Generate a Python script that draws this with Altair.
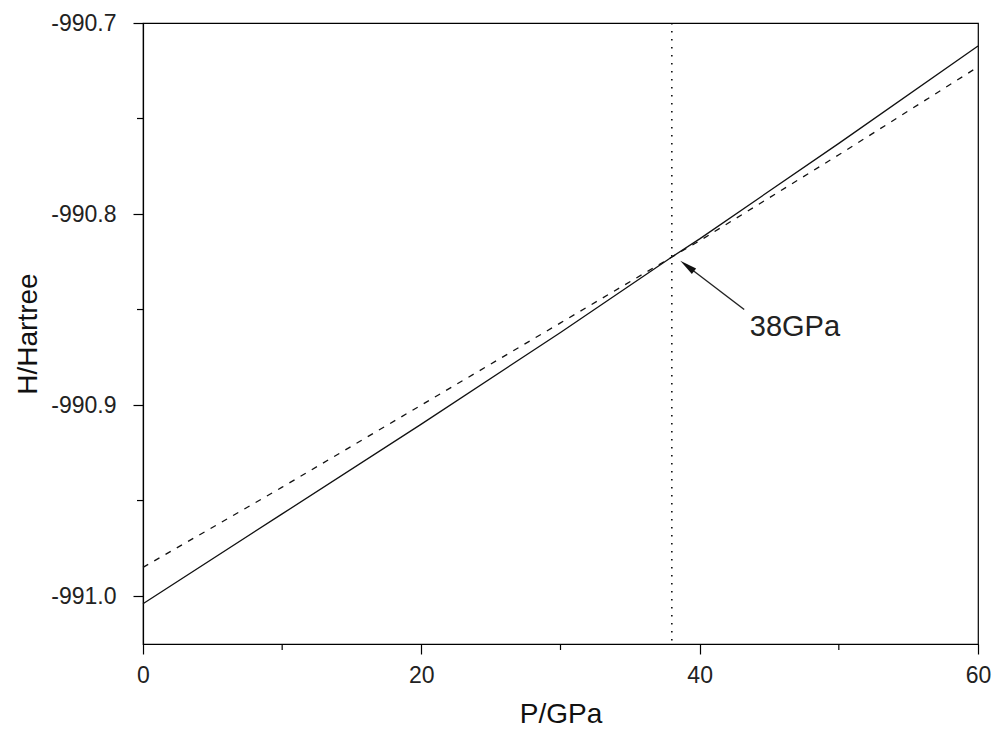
import altair as alt
import pandas as pd

# Data
pressure = [0, 10, 20, 30, 38, 40, 50, 60]
h_solid = [-991.004, -990.957, -990.910, -990.862, -990.8225, -990.813, -990.763, -990.712]
h_dashed = [-990.985, -990.943, -990.900, -990.857, -990.8225, -990.814, -990.769, -990.723]

x_major = [0, 20, 40, 60]
x_minor = [10, 30, 50]
y_major = [-991.0, -990.9, -990.8, -990.7]
y_minor = [-990.95, -990.85, -990.75]

cross_p = [38]
label_text = ["38GPa"]
label_pos = [(43.6, -990.859)]
arrow_tail = (43.2, -990.850)
arrow_head = (39.1, -990.8272)

X_DOMAIN = [0, 60]
Y_DOMAIN = [-991.0251, -990.7]
FONT = "Liberation Sans"

xs = alt.Scale(domain=X_DOMAIN, nice=False, zero=False)
ys = alt.Scale(domain=Y_DOMAIN, nice=False, zero=False)

df_solid = pd.DataFrame({"P": pressure, "H": h_solid})
df_dash = pd.DataFrame({"P": pressure, "H": h_dashed})

solid = alt.Chart(df_solid).mark_line(color="#111", strokeWidth=1.3).encode(
    x=alt.X("P:Q", scale=xs, axis=alt.Axis(values=x_major, title="P/GPa", format="d",
                                           labelPadding=10, titlePadding=13,
                                           labelFlush=False)),
    y=alt.Y("H:Q", scale=ys, axis=alt.Axis(
        values=y_major, title="H/Hartree", labelPadding=17, titlePadding=8,
        labelFlush=False,
        labelExpr="replace(format(datum.value, '.1f'), '\u2212', '-')")),
)
dashed = alt.Chart(df_dash).mark_line(color="#111", strokeWidth=1.3, strokeDash=[6, 7]).encode(
    x=alt.X("P:Q", scale=xs), y=alt.Y("H:Q", scale=ys)
)

vline = alt.Chart(pd.DataFrame({"P": cross_p})).mark_rule(
    color="black", strokeWidth=1.5, strokeDash=[1.5, 6.5]
).encode(x=alt.X("P:Q", scale=xs))

xminor = alt.Chart(pd.DataFrame({"P": x_minor})).mark_rule(color="black", strokeWidth=1.2).encode(
    x=alt.X("P:Q", scale=xs), y=alt.value(621), y2=alt.value(627)
)
yminor = alt.Chart(pd.DataFrame({"H": y_minor})).mark_rule(color="black", strokeWidth=1.2).encode(
    y=alt.Y("H:Q", scale=ys), x=alt.value(-6), x2=alt.value(0)
)

arrow_df = pd.DataFrame({"P": [arrow_tail[0]], "H": [arrow_tail[1]],
                         "P2": [arrow_head[0]], "H2": [arrow_head[1]]})
arrow_line = alt.Chart(arrow_df).mark_rule(color="#222", strokeWidth=1.4).encode(
    x=alt.X("P:Q", scale=xs), y=alt.Y("H:Q", scale=ys), x2="P2:Q", y2="H2:Q"
)
head_df = pd.DataFrame({"P": [arrow_head[0]], "H": [arrow_head[1]]})
arrow_head_mark = alt.Chart(head_df).mark_point(
    shape="M0,-1L-0.4,1L0.4,1Z", filled=True, color="#111", opacity=1,
    size=300, angle=307.6
).encode(x=alt.X("P:Q", scale=xs), y=alt.Y("H:Q", scale=ys))

label_df = pd.DataFrame({"P": [label_pos[0][0]], "H": [label_pos[0][1]], "t": label_text})
label = alt.Chart(label_df).mark_text(
    align="left", baseline="middle", fontSize=29, font=FONT, color="#222"
).encode(x=alt.X("P:Q", scale=xs), y=alt.Y("H:Q", scale=ys), text="t:N")

chart = alt.layer(
    vline, dashed, solid, xminor, yminor, arrow_line, arrow_head_mark, label
).properties(
    width=835, height=621,
    autosize=alt.AutoSizeParams(type="none"),
    padding={"left": 135, "top": 15, "right": 14, "bottom": 84},
).configure_view(
    stroke="black", strokeWidth=1.2
).configure_axis(
    grid=False, domainColor="black", domainWidth=1.2, tickColor="black",
    tickSize=10, tickWidth=1.2, labelColor="#222", labelFont=FONT, labelFontSize=23,
    titleFont=FONT, titleFontSize=28, titleFontWeight="normal", titleColor="#111",
)

chart.save("out.html", embed_options={"renderer": "svg", "actions": False})
